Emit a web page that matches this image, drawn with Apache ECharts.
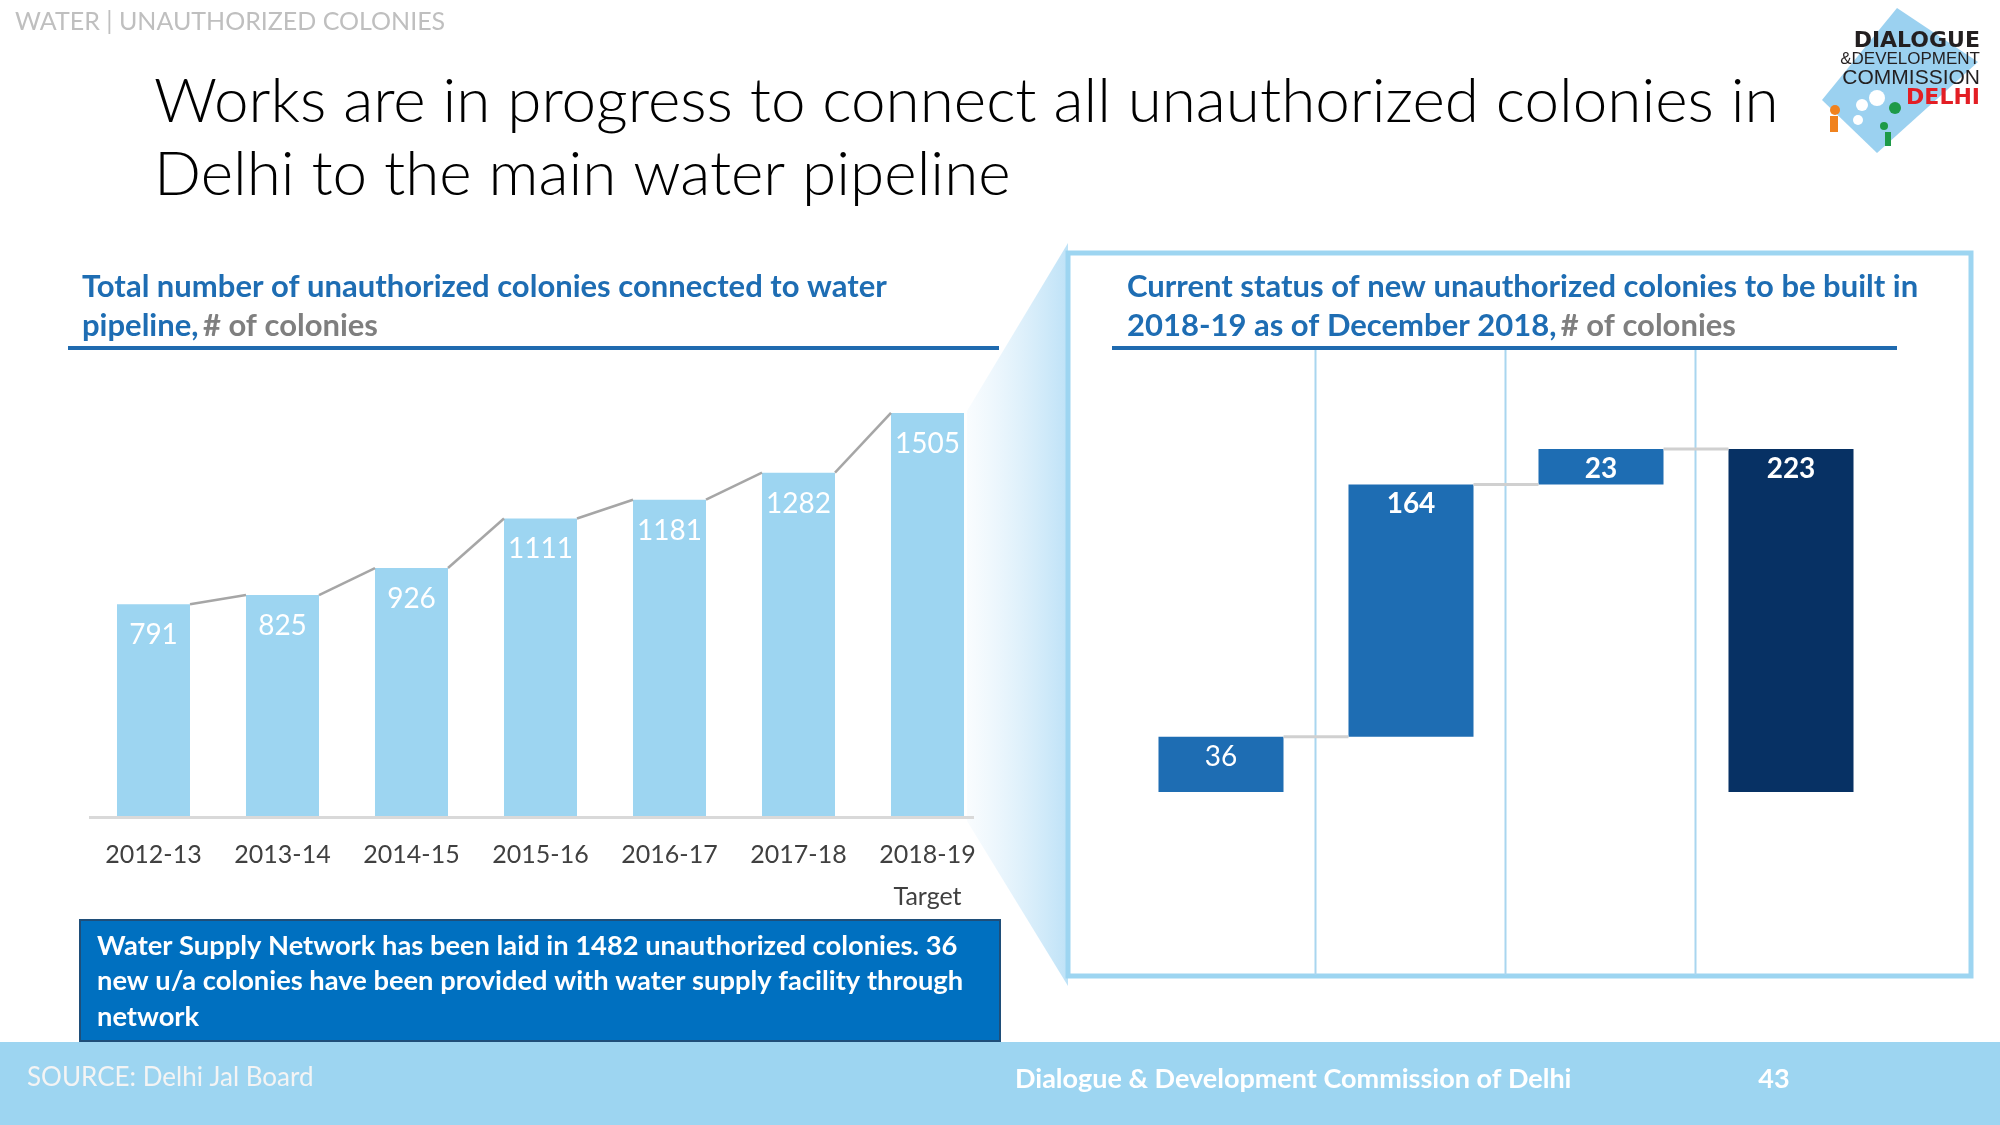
<!DOCTYPE html>
<html><head><meta charset="utf-8">
<script src="https://cdn.jsdelivr.net/npm/echarts@6/dist/echarts.min.js"></script>
<style>html,body{margin:0;padding:0;background:#fff}#c{width:2000px;height:1125px}</style>
</head><body><div id="c"></div>
<script>
// ---- data ----
const years = ['2012-13','2013-14','2014-15','2015-16','2016-17','2017-18','2018-19\nTarget'];
const connected = [791, 825, 926, 1111, 1181, 1282, 1505];
const statusCats = ['Functional\nsince April\n2018','Construction\ncompleted','Construction\nin progress','Total'];
const statusValues = [36, 164, 23, 223];
const statusIsTotal = [false, false, false, true];

// ---- derived (waterfall bases) ----
const statusBase = [];
const statusCum = [];
let run = 0;
statusValues.forEach((v, i) => {
  if (statusIsTotal[i]) { statusBase.push(0); statusCum.push(v); }
  else { statusBase.push(run); run += v; statusCum.push(run); }
});

const FONT = 'Lato, "Open Sans", sans-serif';
const LIGHT = '#9DD5F1';
const BLUE = '#1E6DB3';
const NAVY = '#073164';
const LEFT_BW = 0.566, RIGHT_BW = 0.658;

const chart = echarts.init(document.getElementById('c'), null, {renderer: 'canvas'});

const subRich = {
  b: {fontFamily: FONT, fontWeight: 'bold', fontSize: 31, color: BLUE, lineHeight: 39.5},
  g: {fontFamily: FONT, fontSize: 31, color: '#7f7f7f', lineHeight: 39.5}
};

const option = {
  animation: false,
  backgroundColor: '#fff',
  textStyle: {fontFamily: FONT},
  title: [
    {
      left: 82, top: 267, padding: 0,
      text: '{b|Total number of unauthorized colonies connected to water}\n{b|pipeline,} {g|# of colonies}',
      textStyle: {rich: subRich}
    },
    {
      left: 1127, top: 267, padding: 0,
      text: '{b|Current status of new unauthorized colonies to be built in}\n{b|2018-19 as of December 2018,} {g|# of colonies}',
      textStyle: {rich: subRich}
    }
  ],
  grid: [
    {left: 89, width: 903, top: 387.5, height: 428.5},
    {left: 1126, width: 760, top: 407.5, height: 384.5}
  ],
  xAxis: [
    {
      type: 'category', gridIndex: 0, data: years,
      axisLine: {show: false},
      axisTick: {show: false},
      axisLabel: {color: '#404040', fontSize: 25, lineHeight: 42, margin: 18, fontFamily: FONT}
    },
    {
      type: 'category', gridIndex: 1, data: statusCats,
      axisLine: {lineStyle: {color: '#d9d9d9', width: 3}},
      axisTick: {show: true, length: 8, lineStyle: {color: '#d9d9d9', width: 3}},
      axisLabel: {color: '#1a1a1a', fontSize: 25, lineHeight: 35, margin: 31, fontFamily: FONT,
        formatter: v => v === 'Total' ? '{t|Total}' : v,
        rich: {t: {fontWeight: 'bold', fontSize: 25, color: '#1a1a1a', fontFamily: FONT, lineHeight: 35}}}
    }
  ],
  yAxis: [
    {type: 'value', gridIndex: 0, min: 0, max: 1600, show: false, splitLine: {show: false}},
    {type: 'value', gridIndex: 1, min: 0, max: 250, show: false, splitLine: {show: false}}
  ],
  graphic: [
    // zoom wedge
    {type: 'polygon', z: 0, shape: {points: [[1068, 243], [967, 411], [967, 821], [1068, 986]]},
      style: {fill: new echarts.graphic.LinearGradient(0, 0, 1, 0, [
        {offset: 0, color: 'rgba(215,236,250,0.15)'}, {offset: 1, color: 'rgba(190,226,247,1)'}])}},
    // right frame
    {type: 'rect', z: 1, shape: {x: 1068, y: 253, width: 903, height: 723},
      style: {fill: '#fff', stroke: LIGHT, lineWidth: 5}},
    // header
    {type: 'text', z: 10, x: 15, y: 22, style: {text: 'WATER | UNAUTHORIZED COLONIES', fontFamily: FONT,
      fontSize: 25, fill: '#bfbfbf', verticalAlign: 'middle'}},
    // main title
    {type: 'text', z: 10, x: 154, y: 65.5, style: {
      text: 'Works are in progress to connect all unauthorized colonies in\nDelhi to the main water pipeline',
      fontFamily: FONT, fontWeight: 300, fontSize: 62, lineHeight: 73, fill: '#000', verticalAlign: 'top'}},
    // rules
    {type: 'rect', z: 10, shape: {x: 68, y: 346, width: 931, height: 4}, style: {fill: '#1F6AAF'}},
    {type: 'rect', z: 10, shape: {x: 1112, y: 346, width: 785, height: 4}, style: {fill: '#1F6AAF'}},
    // note box
    {type: 'rect', z: 10, shape: {x: 80, y: 920, width: 920, height: 121},
      style: {fill: '#0070C0', stroke: '#1F4E79', lineWidth: 2}},
    {type: 'text', z: 11, x: 97, y: 928, style: {
      text: 'Water Supply Network has been laid in 1482 unauthorized colonies. 36\nnew u/a colonies have been provided with water supply facility through\nnetwork',
      fontFamily: FONT, fontWeight: 'bold', fontSize: 27.3, lineHeight: 35.5, fill: '#fff', verticalAlign: 'top'}},
    // footer
    {type: 'rect', z: 10, shape: {x: 0, y: 1042, width: 2000, height: 83}, style: {fill: LIGHT}},
    {type: 'text', z: 11, x: 27, y: 1078, style: {text: 'SOURCE: Delhi Jal Board', fontFamily: FONT,
      fontSize: 26, fill: '#f4f4f4', verticalAlign: 'middle'}},
    {type: 'text', z: 11, x: 1015, y: 1079, style: {text: 'Dialogue & Development Commission of Delhi', fontFamily: FONT,
      fontWeight: 'bold', fontSize: 27, fill: '#fff', verticalAlign: 'middle'}},
    {type: 'text', z: 11, x: 1774, y: 1079, style: {text: '43', fontFamily: FONT,
      fontWeight: 'bold', fontSize: 27, fill: '#fff', verticalAlign: 'middle', align: 'center'}},
    // logo
    {type: 'polygon', z: 10, shape: {points: [[1897, 8], [1978, 62], [1877, 153], [1822, 100]]}, style: {fill: '#9BD1F0'}},
    {type: 'circle', z: 11, shape: {cx: 1835, cy: 110, r: 5}, style: {fill: '#F0821E'}},
    {type: 'rect', z: 11, shape: {x: 1830, y: 116, width: 8, height: 16}, style: {fill: '#F0821E'}},
    {type: 'circle', z: 11, shape: {cx: 1862, cy: 105, r: 6}, style: {fill: '#fff'}},
    {type: 'circle', z: 11, shape: {cx: 1877, cy: 98, r: 8}, style: {fill: '#fff'}},
    {type: 'circle', z: 11, shape: {cx: 1858, cy: 120, r: 5}, style: {fill: '#fff'}},
    {type: 'circle', z: 11, shape: {cx: 1895, cy: 108, r: 6}, style: {fill: '#1E9A48'}},
    {type: 'circle', z: 11, shape: {cx: 1884, cy: 126, r: 4}, style: {fill: '#1E9A48'}},
    {type: 'rect', z: 11, shape: {x: 1885, y: 132, width: 6, height: 14}, style: {fill: '#1E9A48'}},
    {type: 'text', z: 12, x: 1980, y: 41, style: {text: 'DIALOGUE', fontFamily: '"DejaVu Sans", sans-serif', fontWeight: 'bold',
      fontSize: 22, fill: '#231F20', align: 'right', verticalAlign: 'middle'}},
    {type: 'text', z: 12, x: 1980, y: 59, style: {text: '&DEVELOPMENT', fontFamily: '"Liberation Sans", sans-serif',
      fontSize: 17, fill: '#231F20', align: 'right', verticalAlign: 'middle'}},
    {type: 'text', z: 12, x: 1980, y: 78, style: {text: 'COMMISSION', fontFamily: '"Liberation Sans", sans-serif',
      fontSize: 21, fill: '#231F20', align: 'right', verticalAlign: 'middle'}},
    {type: 'text', z: 12, x: 1980, y: 98, style: {text: 'DELHI', fontFamily: '"DejaVu Sans", sans-serif', fontWeight: 'bold',
      fontSize: 22, fill: '#E31E24', align: 'right', verticalAlign: 'middle'}}
  ],
  series: [
    // left baseline, drawn from the category band of the axis
    {
      type: 'custom', xAxisIndex: 0, yAxisIndex: 0, z: 2,
      data: [[0, 0]], encode: {x: 0, y: 1},
      renderItem(params, api) {
        const band = api.size([1, 0])[0];
        const p0 = api.coord([0, 0]);
        const pN = api.coord([years.length - 1, 0]);
        return {type: 'line', shape: {x1: p0[0] - band / 2, y1: p0[1] + 1.5, x2: pN[0] + band * LEFT_BW / 2 + 10, y2: pN[1] + 1.5},
          style: {stroke: '#d9d9d9', lineWidth: 3}};
      }
    },
    {
      type: 'bar', xAxisIndex: 0, yAxisIndex: 0, data: connected, barWidth: (LEFT_BW * 100) + '%',
      itemStyle: {color: LIGHT}, z: 3,
      label: {show: true, position: 'insideTop', distance: 17, color: '#fff', fontSize: 28, lineHeight: 28, fontFamily: FONT}
    },
    {
      type: 'custom', xAxisIndex: 0, yAxisIndex: 0, z: 4,
      data: connected.slice(0, -1).map((v, i) => [i, v, connected[i + 1]]),
      encode: {x: 0, y: 1},
      renderItem(params, api) {
        const i = api.value(0);
        const p1 = api.coord([i, api.value(1)]);
        const p2 = api.coord([i + 1, api.value(2)]);
        const bw = api.size([1, 0])[0] * LEFT_BW;
        return {type: 'line', shape: {x1: p1[0] + bw / 2, y1: p1[1], x2: p2[0] - bw / 2, y2: p2[1]},
          style: {stroke: '#a6a6a6', lineWidth: 2.5}};
      }
    },
    // right waterfall
    {
      type: 'bar', xAxisIndex: 1, yAxisIndex: 1, stack: 'wf', data: statusBase, barWidth: (RIGHT_BW * 100) + '%',
      itemStyle: {color: 'transparent'}, z: 3, silent: true
    },
    {
      type: 'bar', xAxisIndex: 1, yAxisIndex: 1, stack: 'wf', z: 3,
      data: statusValues.map((v, i) => ({value: v, itemStyle: {color: statusIsTotal[i] ? NAVY : BLUE},
        label: {fontWeight: i === 0 ? 'normal' : 'bold'}})),
      label: {show: true, position: 'insideTop', distance: 6, color: '#fff', fontSize: 28, lineHeight: 28, fontFamily: FONT}
    },
    {
      type: 'custom', xAxisIndex: 1, yAxisIndex: 1, z: 4,
      data: statusCum.slice(0, -1).map((v, i) => [i, v]),
      encode: {x: 0, y: 1},
      renderItem(params, api) {
        const i = api.value(0);
        const p1 = api.coord([i, api.value(1)]);
        const p2 = api.coord([i + 1, api.value(1)]);
        const bw = api.size([1, 0])[0] * RIGHT_BW;
        return {type: 'line', shape: {x1: p1[0] + bw / 2, y1: p1[1], x2: p2[0] - bw / 2, y2: p2[1]},
          style: {stroke: '#d0d0d0', lineWidth: 3}};
      }
    },
    {
      type: 'custom', xAxisIndex: 1, yAxisIndex: 1, z: 2,
      data: [[1, 0], [2, 0], [3, 0]],
      encode: {x: 0, y: 1},
      renderItem(params, api) {
        const i = api.value(0);
        const x = Math.round(api.coord([i, 0])[0] - api.size([1, 0])[0] / 2) - 0.5;
        return {type: 'line', shape: {x1: x, y1: 348, x2: x, y2: 975},
          style: {stroke: '#A9D6EF', lineWidth: 2}};
      }
    }
  ]
};
chart.setOption(option);
</script>
</body></html>
